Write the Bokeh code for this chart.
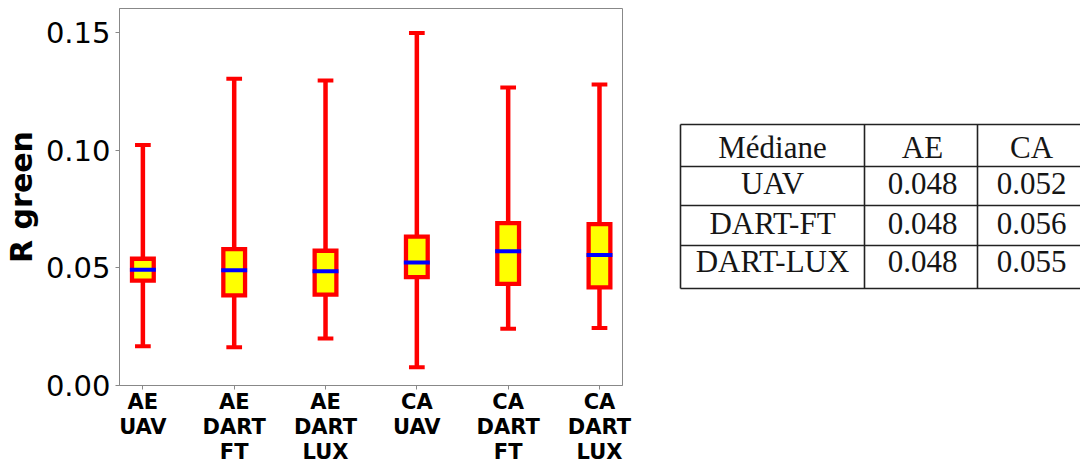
from bokeh.plotting import figure
from bokeh.models import Range1d, FixedTicker, ColumnDataSource
from bokeh.layouts import row
from bokeh.embed import file_html
from bokeh.resources import INLINE
from bokeh.core.properties import value

# ---------------- data ----------------
categories = ["AE\nUAV", "AE\nDART\nFT", "AE\nDART\nLUX", "CA\nUAV", "CA\nDART\nFT", "CA\nDART\nLUX"]
whisker_low = [0.0167, 0.0163, 0.0200, 0.0078, 0.0241, 0.0244]
q1 = [0.0446, 0.0383, 0.0386, 0.0461, 0.0432, 0.0417]
median = [0.0492, 0.0490, 0.0486, 0.0523, 0.0571, 0.0555]
q3 = [0.0539, 0.0580, 0.0573, 0.0633, 0.0690, 0.0686]
whisker_high = [0.1023, 0.1304, 0.1297, 0.1499, 0.1267, 0.1280]
y_ticks = [0.0, 0.05, 0.10, 0.15]
y_tick_labels = ["0.00", "0.05", "0.10", "0.15"]

table_header = ["Médiane", "AE", "CA"]
table_rows = ["UAV", "DART-FT", "DART-LUX"]
ae_median = ["0.048", "0.048", "0.048"]
ca_median = ["0.052", "0.056", "0.055"]

# ---------------- box plot ----------------
pos = [i + 1 for i in range(len(categories))]
BOX_W = 0.238
CAP_HW = 0.086
MED_HW = 0.142

B_LEFT, B_RIGHT, B_TOP, B_BOTTOM = 119, 18, 8, 78
FW, FH = 503, 377

p = figure(frame_width=FW, frame_height=FH, title=None,
           x_range=Range1d(0.744, 6.252), y_range=Range1d(0, 0.1603),
           output_backend="svg", toolbar_location=None,
           min_border_left=B_LEFT, min_border_right=B_RIGHT,
           min_border_top=B_TOP, min_border_bottom=B_BOTTOM)
p.xgrid.visible = False
p.ygrid.visible = False
p.outline_line_color = "#888888"
p.outline_line_width = 1
p.background_fill_color = "white"
p.border_fill_color = "white"

src = ColumnDataSource(dict(
    x=pos, low=whisker_low, q1=q1, med=median, q3=q3, high=whisker_high,
    cap_l=[x - CAP_HW for x in pos], cap_r=[x + CAP_HW for x in pos],
    med_l=[x - MED_HW for x in pos], med_r=[x + MED_HW for x in pos],
))

RED = "#ff0000"
p.segment(x0="x", y0="low", x1="x", y1="q1", source=src, line_color=RED, line_width=4.5)
p.segment(x0="x", y0="q3", x1="x", y1="high", source=src, line_color=RED, line_width=4.5)
p.segment(x0="cap_l", y0="low", x1="cap_r", y1="low", source=src, line_color=RED, line_width=4)
p.segment(x0="cap_l", y0="high", x1="cap_r", y1="high", source=src, line_color=RED, line_width=4)
p.vbar(x="x", width=BOX_W, bottom="q1", top="q3", source=src,
       fill_color="#ffff00", line_color=RED, line_width=4.3, line_join="miter")
p.segment(x0="med_l", y0="med", x1="med_r", y1="med", source=src, line_color="#0000ff", line_width=4)

# axes
xa = p.xaxis[0]
xa.ticker = FixedTicker(ticks=pos)
xa.major_label_overrides = {x: c for x, c in zip(pos, categories)}
xa.major_label_text_font = "DejaVu Sans"
xa.major_label_text_font_style = "bold"
xa.major_label_text_font_size = "21px"
xa.major_label_text_color = "black"
xa.major_label_text_line_height = 1.05
xa.major_label_standoff = 0
xa.minor_tick_line_color = None
xa.major_tick_in = 0
xa.major_tick_out = 4
xa.major_tick_line_color = "#888888"
xa.axis_line_color = "#888888"

ya = p.yaxis[0]
ya.ticker = FixedTicker(ticks=y_ticks)
ya.major_label_overrides = {t: l for t, l in zip(y_ticks, y_tick_labels)}
ya.major_label_text_font = "DejaVu Sans"
ya.major_label_text_font_size = "29px"
ya.major_label_text_color = "black"
ya.major_label_standoff = 5
ya.minor_tick_line_color = None
ya.major_tick_in = 0
ya.major_tick_out = 4
ya.major_tick_line_color = "#888888"
ya.axis_line_color = "#888888"
ya.axis_label = "R green"
ya.axis_label_text_font = "DejaVu Sans"
ya.axis_label_text_font_style = "bold"
ya.axis_label_text_font_size = "30px"
ya.axis_label_text_color = "black"
ya.axis_label_standoff = 4

# ---------------- table (same frame band as the box plot) ----------------
PAGE_LEFT = B_LEFT + FW + B_RIGHT
T_W = 1080 - PAGE_LEFT
t = figure(frame_width=T_W, frame_height=FH, title=None,
           x_range=Range1d(PAGE_LEFT, PAGE_LEFT + T_W),
           y_range=Range1d(B_TOP + FH, B_TOP), output_backend="svg", toolbar_location=None,
           x_axis_type=None, y_axis_type=None,
           min_border_left=0, min_border_right=0,
           min_border_top=B_TOP, min_border_bottom=B_BOTTOM)
t.xgrid.visible = False
t.ygrid.visible = False
t.outline_line_color = None
t.background_fill_color = "white"
t.border_fill_color = "white"

row_lines = [124, 166, 205, 245, 288]
col_lines = [680, 864, 977, 1086]
LINE = "#222222"
t.segment(x0=[col_lines[0]] * len(row_lines), y0=row_lines,
          x1=[col_lines[-1]] * len(row_lines), y1=row_lines, line_color=LINE, line_width=1.6)
t.segment(x0=col_lines, y0=[row_lines[0]] * len(col_lines),
          x1=col_lines, y1=[row_lines[-1]] * len(col_lines), line_color=LINE, line_width=1.6)

col_centers = [772, 922, 1031]
baselines = [147, 182.5, 222.5, 261]
cells = [table_header] + [[r, a, c] for r, a, c in zip(table_rows, ae_median, ca_median)]
tx, ty, tt = [], [], []
for ri, cells_row in enumerate(cells):
    for ci, txt in enumerate(cells_row):
        tx.append(col_centers[ci])
        ty.append(baselines[ri])
        tt.append(txt)
t.text(x=tx, y=ty, text=tt, text_align="center", text_baseline="alphabetic",
       text_font=value("Liberation Serif"), text_font_size="31px", text_color="#151515")

layout = row(p, t)
open("out.html", "w").write(file_html(layout, INLINE))
